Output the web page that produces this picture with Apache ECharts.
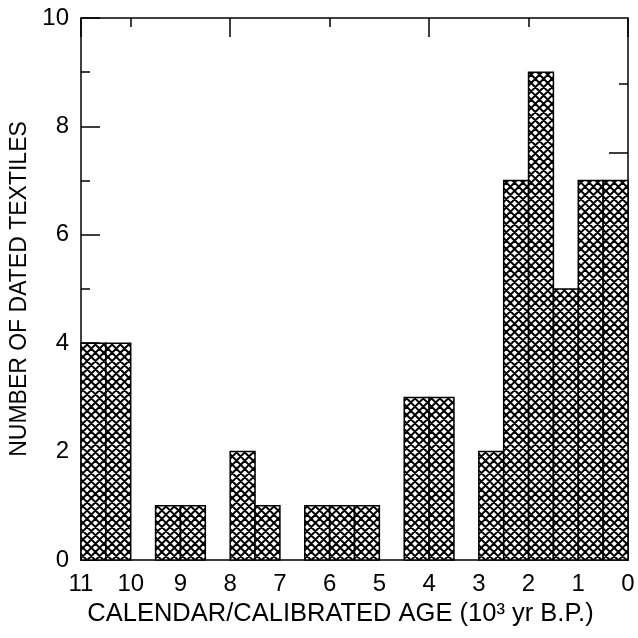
<!DOCTYPE html>
<html><head><meta charset="utf-8">
<script src="https://cdn.jsdelivr.net/npm/echarts@6/dist/echarts.min.js"></script>
<style>html,body{margin:0;padding:0;background:#fff}#c{width:638px;height:638px}</style>
</head><body><div id="c"></div>
<script>
// Bins (10^3 yr B.P.): start and end of each 500-yr bin
const binStart = [11, 10.5, 10, 9.5, 9, 8.5, 8, 7.5, 7, 6.5, 6, 5.5, 5, 4.5, 4, 3.5, 3, 2.5, 2, 1.5, 1, 0.5];
const binEnd   = [10.5, 10, 9.5, 9, 8.5, 8, 7.5, 7, 6.5, 6, 5.5, 5, 4.5, 4, 3.5, 3, 2.5, 2, 1.5, 1, 0.5, 0];
const counts   = [4, 4, 0, 1, 1, 0, 2, 1, 0, 1, 1, 1, 0, 3, 3, 0, 2, 7, 9, 5, 7, 7];
const xTickLabels = [0, 1, 2, 3, 4, 5, 6, 7, 8, 9, 10, 11];
const rightShortTicks = [1.2, 3.73, 6.25, 8.78];
const rightLongTicks = [2.47, 4.98, 7.51];

function makePattern() {
  const s = 8.3;
  const c = document.createElement('canvas');
  c.width = 83; c.height = 83;
  const g = c.getContext('2d');
  g.fillStyle = '#fff'; g.fillRect(0, 0, c.width, c.height);
  g.strokeStyle = '#000'; g.lineWidth = 2.0;
  const n = Math.round(c.width / s);
  g.beginPath();
  for (let k = -n; k <= 2 * n; k++) {
    g.moveTo(k * s, 0); g.lineTo(k * s + c.height, c.height);
    g.moveTo(k * s, 0); g.lineTo(k * s - c.height, c.height);
  }
  g.stroke();
  return c;
}
const pat = { image: makePattern(), repeat: 'repeat' };

const data = binStart.map((s, i) => [s, binEnd[i], counts[i]]);
const FONT = 'Liberation Sans, Arial, sans-serif';
const LINE = { onZero: false, show: true, lineStyle: { color: '#000', width: 1.5 } };
const NOLINE = { onZero: false, show: false };
const chart = echarts.init(document.getElementById('c'), null, { renderer: 'canvas' });
chart.setOption({
  animation: false,
  backgroundColor: '#fff',
  grid: { left: 80, right: 10, top: 18, bottom: 78, containLabel: false },
  xAxis: [
    {
      type: 'value', min: 0, max: 11, interval: 1, inverse: true, position: 'bottom',
      axisLine: LINE,
      axisTick: { show: false }, splitLine: { show: false },
      axisLabel: { color: '#000', fontSize: 24, fontFamily: FONT, margin: 12,
        customValues: xTickLabels },
      name: 'CALENDAR/CALIBRATED AGE (10³ yr B.P.)', nameLocation: 'middle', nameGap: 33,
      nameTextStyle: { color: '#000', fontSize: 25.5, fontFamily: FONT, padding: [0, 28, 0, 0] }
    },
    {
      type: 'value', min: 0, max: 11, interval: 2, inverse: true, position: 'top',
      axisLine: LINE,
      axisTick: { show: true, inside: true, length: 9, lineStyle: { color: '#000', width: 1.5 } },
      axisLabel: { show: false }, splitLine: { show: false }
    },
    {
      type: 'value', min: 0, max: 11, interval: 4, inverse: true, position: 'top',
      axisLine: NOLINE,
      axisTick: { show: true, inside: true, length: 19, lineStyle: { color: '#000', width: 1.5 } },
      axisLabel: { show: false }, splitLine: { show: false }
    }
  ],
  yAxis: [
    {
      type: 'value', min: 0, max: 10, interval: 2, position: 'left',
      axisLine: LINE,
      axisTick: { show: true, inside: true, length: 19, lineStyle: { color: '#000', width: 1.5 } },
      minorTick: { show: true, splitNumber: 2, length: 9, lineStyle: { color: '#000', width: 1.5 } },
      splitLine: { show: false },
      axisLabel: { color: '#000', fontSize: 24, fontFamily: FONT, margin: 12 },
      name: 'NUMBER OF DATED TEXTILES', nameLocation: 'middle', nameGap: 50,
      nameTextStyle: { color: '#000', fontSize: 23, fontFamily: FONT }
    },
    {
      type: 'value', min: 0, max: 10, position: 'right',
      axisLine: LINE,
      axisTick: { show: true, inside: true, length: 9, customValues: rightShortTicks, lineStyle: { color: '#000', width: 1.5 } },
      axisLabel: { show: false }, splitLine: { show: false }
    },
    {
      type: 'value', min: 0, max: 10, position: 'right',
      axisLine: NOLINE,
      axisTick: { show: true, inside: true, length: 19, customValues: rightLongTicks, lineStyle: { color: '#000', width: 1.5 } },
      axisLabel: { show: false }, splitLine: { show: false }
    }
  ],
  series: [{
    type: 'custom',
    xAxisIndex: 0, yAxisIndex: 0,
    data: data,
    renderItem: function (params, api) {
      const y = api.value(2);
      if (!y) return null;
      const p0 = api.coord([api.value(0), y]);
      const p1 = api.coord([api.value(1), 0]);
      return {
        type: 'rect',
        shape: { x: Math.min(p0[0], p1[0]), y: p0[1], width: Math.abs(p1[0] - p0[0]), height: p1[1] - p0[1] },
        style: { fill: pat, stroke: '#000', lineWidth: 1.5 }
      };
    },
    z: 1
  }]
});
</script></body></html>
